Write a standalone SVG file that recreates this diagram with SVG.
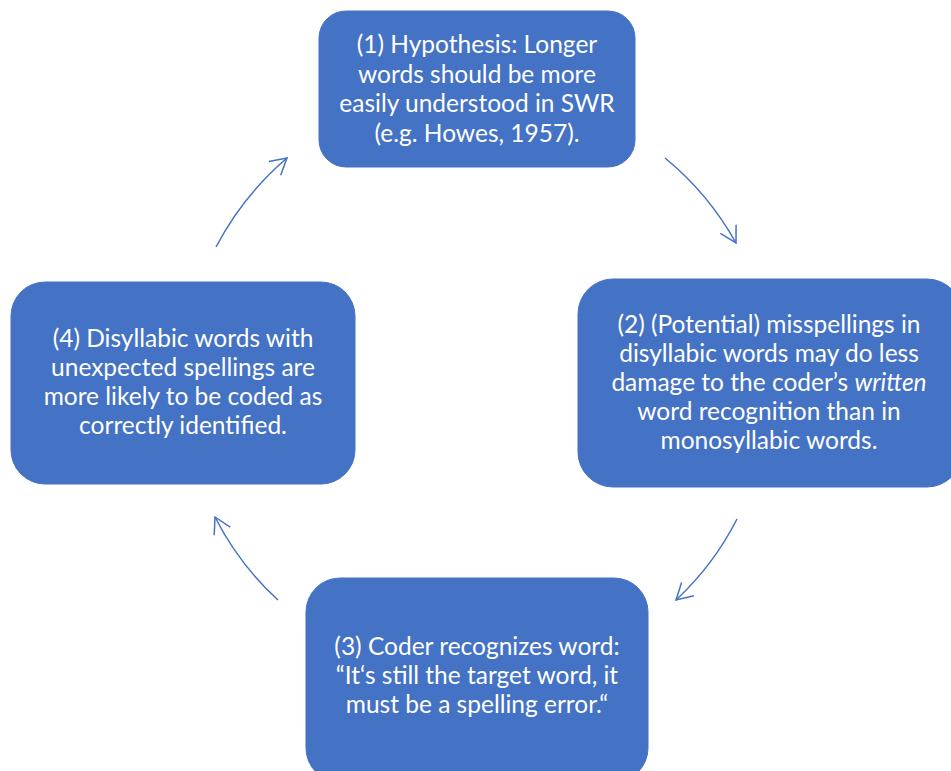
<svg xmlns="http://www.w3.org/2000/svg" width="951" height="771" viewBox="0 0 951 771">
<style>
.box{fill:#4472C4;stroke:#4472C4;stroke-width:1}
.t{font-family:Lato,"Liberation Sans",sans-serif;font-size:24.5px;fill:#FFFFFF;text-anchor:middle}
.c{fill:none;stroke:#4472C4;stroke-width:1.5}
</style>
<defs>
<marker id="ah" markerUnits="userSpaceOnUse" markerWidth="24" markerHeight="24" viewBox="-20 -12 24 24" refX="0" refY="0" orient="auto">
<path d="M-16,-9 L0,0 L-16,9" fill="none" stroke="#4472C4" stroke-width="1.5"/>
</marker>
</defs>
<rect width="951" height="771" fill="#FFFFFF"/>
<g id="connectors">
<path class="c" d="M665,158 A296,296 0 0 1 736,243" marker-end="url(#ah)"/>
<path class="c" d="M737,519 A290,290 0 0 1 676,600" marker-end="url(#ah)"/>
<path class="c" d="M278,600 A291,291 0 0 1 215,517" marker-end="url(#ah)"/>
<path class="c" d="M216,247 A299,299 0 0 1 287,158" marker-end="url(#ah)"/>
</g>
<g id="node1">
<rect class="box" x="319" y="11" width="316" height="156" rx="27" ry="27"/>
<text class="t"><tspan x="477" y="53">(1) Hypothesis: Longer</tspan><tspan x="477" y="82.5">words should be more</tspan><tspan x="477" y="112">easily understood in SWR</tspan><tspan x="477" y="141.5">(e.g. Howes, 1957).</tspan></text>
</g>
<g id="node2">
<rect class="box" x="578" y="279" width="384" height="208" rx="35" ry="35"/>
<text class="t"><tspan x="769" y="333">(2) (Potential) misspellings in</tspan><tspan x="769" y="362">disyllabic words may do less</tspan><tspan x="769" y="391">damage to the coder’s <tspan font-style="italic">written</tspan></tspan><tspan x="769" y="420">word recognition than in</tspan><tspan x="769" y="449">monosyllabic words.</tspan></text>
</g>
<g id="node3">
<rect class="box" x="306" y="578" width="342" height="204" rx="34" ry="34"/>
<text class="t"><tspan x="477" y="655">(3) Coder recognizes word:</tspan><tspan x="477" y="684">“It‘s still the target word, it</tspan><tspan x="477" y="713">must be a spelling error.“</tspan></text>
</g>
<g id="node4">
<rect class="box" x="11" y="282" width="344" height="202" rx="34" ry="34"/>
<text class="t"><tspan x="183" y="347">(4) Disyllabic words with</tspan><tspan x="183" y="376">unexpected spellings are</tspan><tspan x="183" y="405">more likely to be coded as</tspan><tspan x="183" y="434">correctly identified.</tspan></text>
</g>
</svg>
